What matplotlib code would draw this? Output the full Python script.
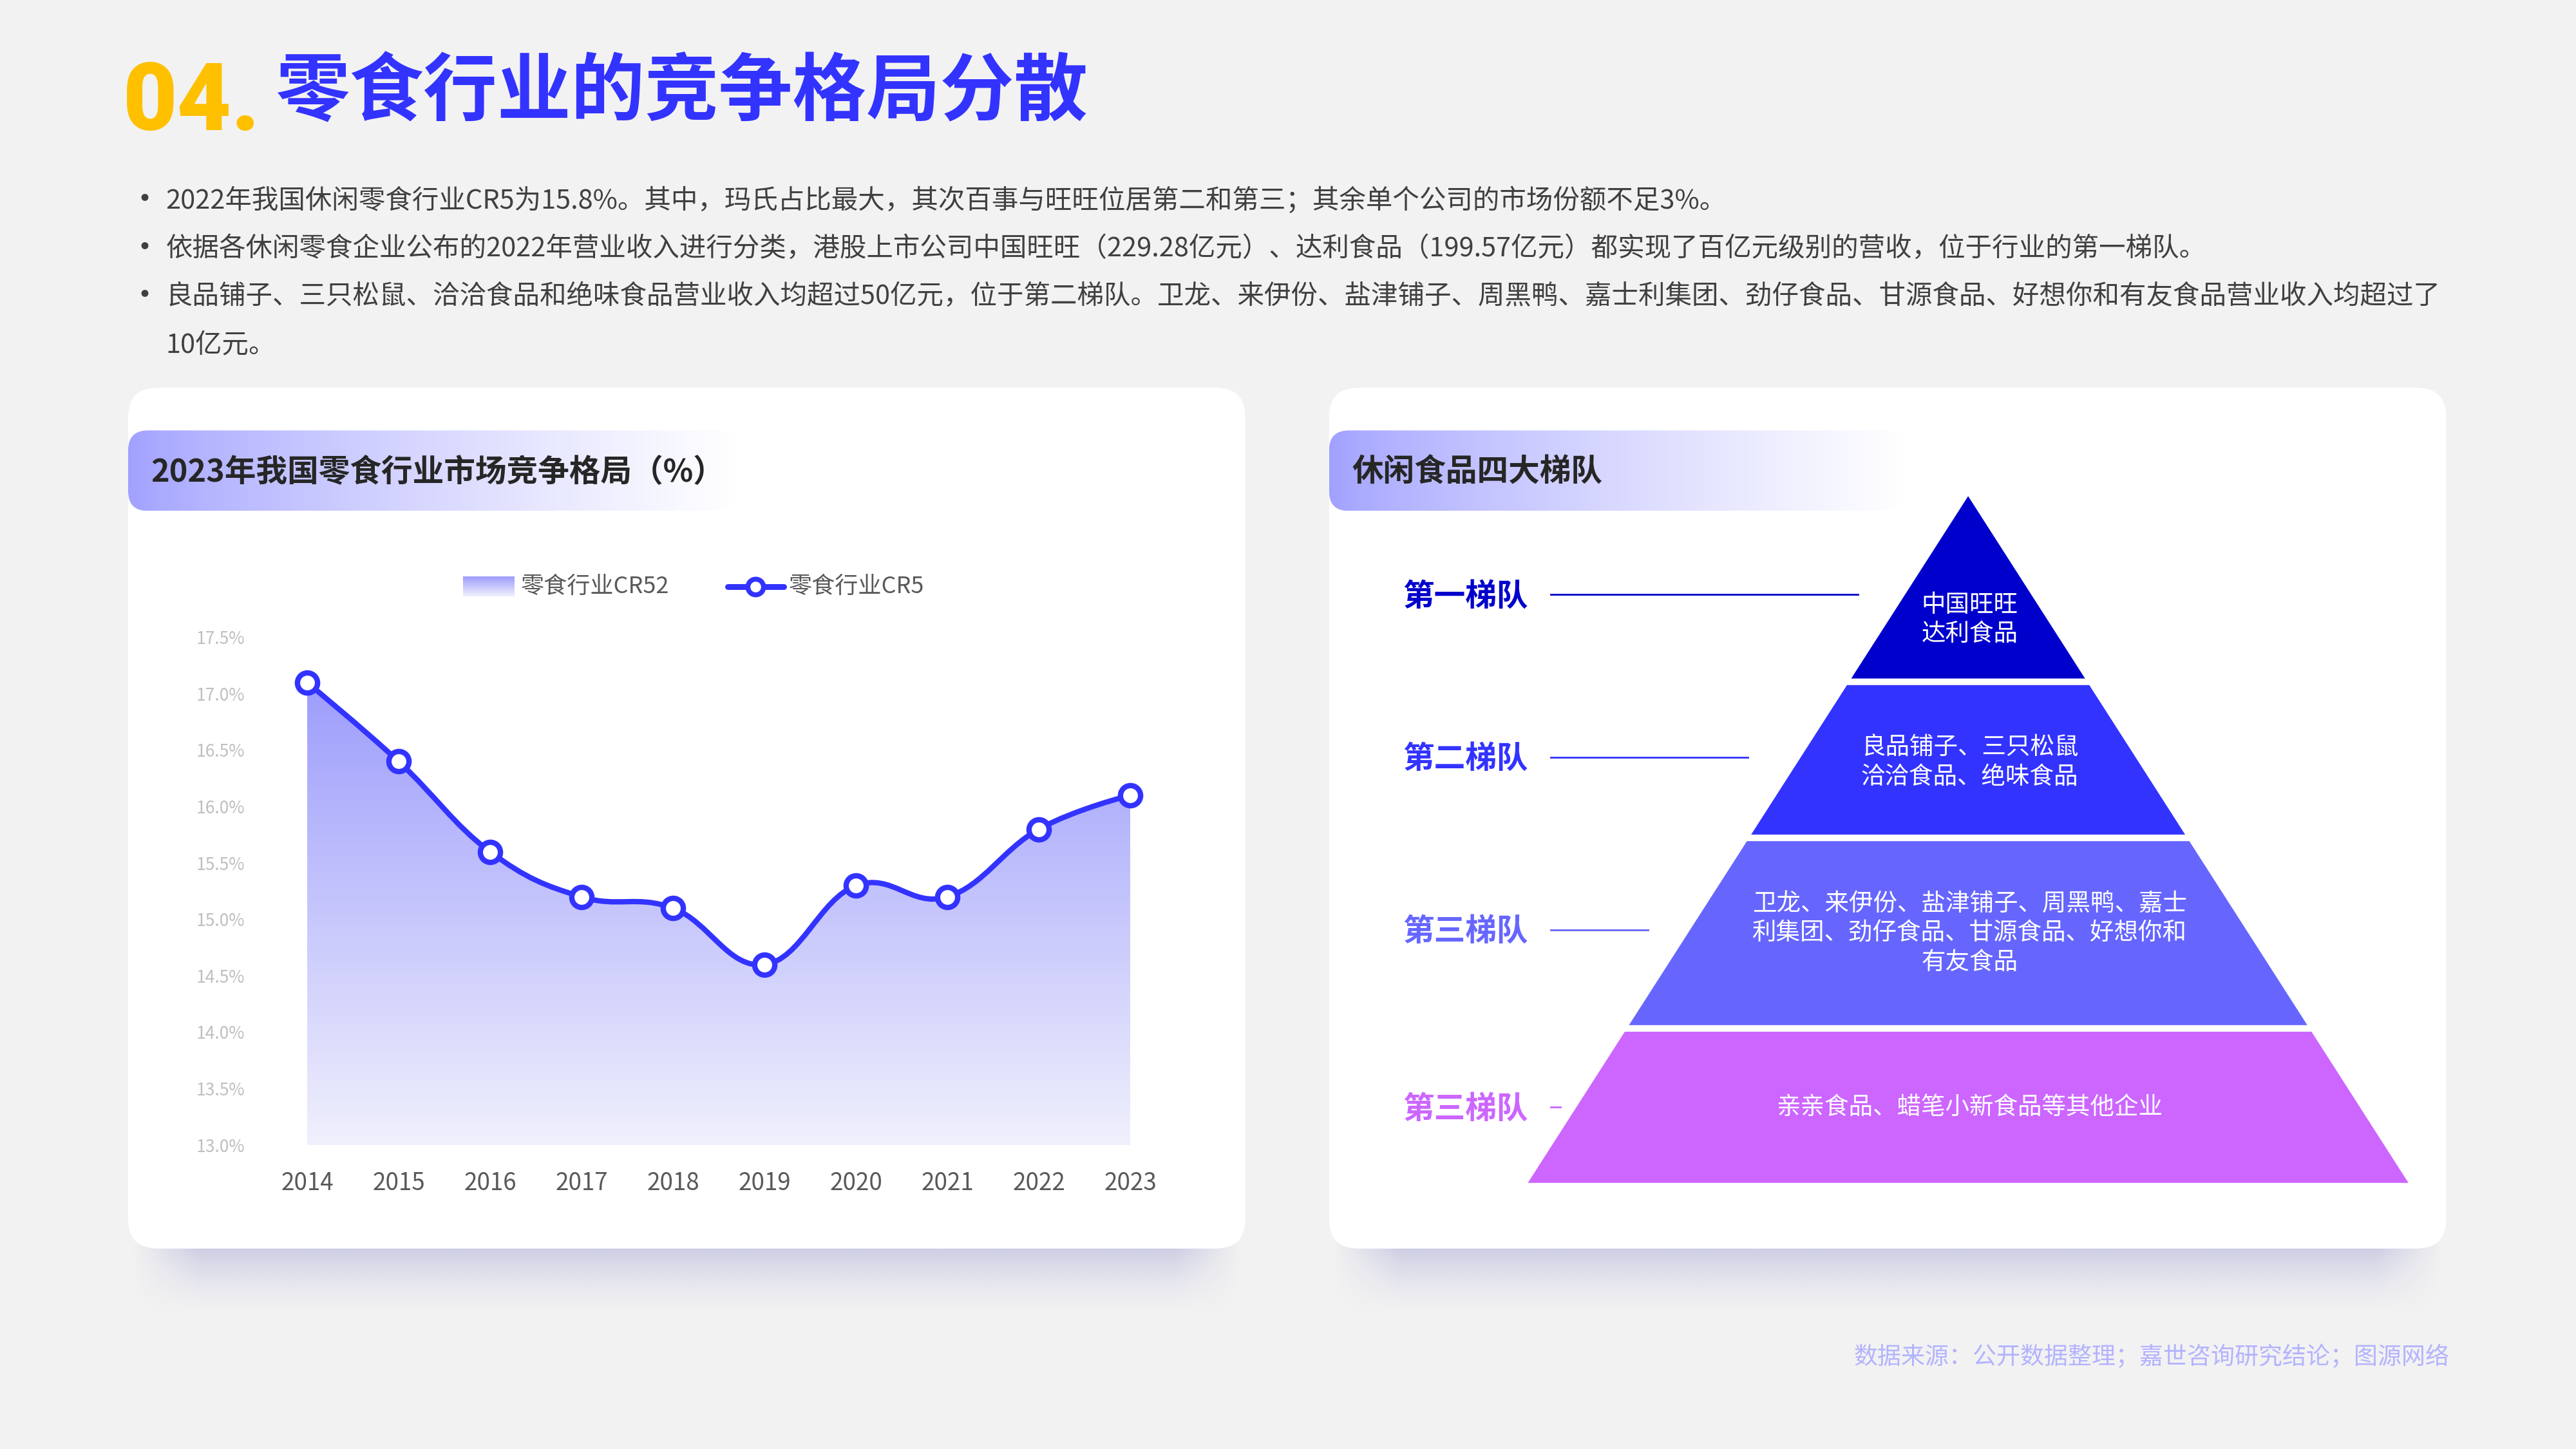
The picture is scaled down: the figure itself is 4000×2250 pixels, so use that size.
import numpy as np
import matplotlib
matplotlib.use('Agg')
import matplotlib.pyplot as plt
from matplotlib.patches import FancyBboxPatch, Polygon, PathPatch
from matplotlib.path import Path

plt.rcParams['font.family'] = ['Noto Sans CJK SC', 'DejaVu Sans']

# ---- data ----
years = [2014, 2015, 2016, 2017, 2018, 2019, 2020, 2021, 2022, 2023]
cr5 = [17.1, 16.4, 15.6, 15.2, 15.1, 14.6, 15.3, 15.2, 15.8, 16.1]
y_ticks = [13.0, 13.5, 14.0, 14.5, 15.0, 15.5, 16.0, 16.5, 17.0, 17.5]
legend_labels = ['零食行业CR52', '零食行业CR5']

title_num = '04.'
title_text = '零食行业的竞争格局分散'
bullets = [
    '2022年我国休闲零食行业CR5为15.8%。其中，玛氏占比最大，其次百事与旺旺位居第二和第三；其余单个公司的市场份额不足3%。',
    '依据各休闲零食企业公布的2022年营业收入进行分类，港股上市公司中国旺旺（229.28亿元）、达利食品（199.57亿元）都实现了百亿元级别的营收，位于行业的第一梯队。',
    '良品铺子、三只松鼠、洽洽食品和绝味食品营业收入均超过50亿元，位于第二梯队。卫龙、来伊份、盐津铺子、周黑鸭、嘉士利集团、劲仔食品、甘源食品、好想你和有友食品营业收入均超过了\n10亿元。',
]
left_header = '2023年我国零食行业市场竞争格局（%）'
right_header = '休闲食品四大梯队'
tier_names = ['第一梯队', '第二梯队', '第三梯队', '第三梯队']
tier_members = ['中国旺旺\n达利食品',
                '良品铺子、三只松鼠\n洽洽食品、绝味食品',
                '卫龙、来伊份、盐津铺子、周黑鸭、嘉士\n利集团、劲仔食品、甘源食品、好想你和\n有友食品',
                '亲亲食品、蜡笔小新食品等其他企业']
tier_colors = ['#0000cc', '#3333ff', '#6666ff', '#cc66ff']
source = '数据来源：公开数据整理；嘉世咨询研究结论；图源网络'

W, H = 1568, 882
fig = plt.figure(figsize=(16, 9), dpi=250, facecolor='#f2f2f2')
bg = fig.add_axes([0, 0, 1, 1])
bg.set_xlim(0, W)
bg.set_ylim(H, 0)
bg.axis('off')
bg.set_zorder(0)


def hex_rgb(h):
    h = h.lstrip('#')
    return np.array([int(h[i:i + 2], 16) for i in (0, 2, 4)]) / 255.0


# title
bg.text(75, 79, title_num, fontsize=42, fontweight='black', color='#ffc000',
        family=['Roboto', 'DejaVu Sans'], va='baseline', ha='left')
bg.text(168, 57, title_text, fontsize=33, fontweight='heavy', color='#3333ff',
        va='center', ha='left')

# bullets
line_y = 122
for txt in bullets:
    bg.text(78, line_y, '•', fontsize=15, color='#404040', va='center')
    for part in txt.split('\n'):
        bg.text(101, line_y, part, fontsize=11.95, color='#404040', va='center')
        line_y += 29.3


# cards with shadow
def card(x0, x1, y0, y1):
    sh_h = 42
    ys = np.linspace(0, 1, 60)[:, None]
    xs = np.linspace(0, 1, 300)[None, :]
    alpha = (1 - ys) ** 1.6 * np.clip(np.minimum(xs, 1 - xs) / 0.06, 0, 1)
    img = np.zeros((60, 300, 4))
    img[..., :3] = hex_rgb('#c2c2e0')
    img[..., 3] = alpha * 0.95
    bg.imshow(img, extent=[x0 + 2, x1 - 2, y1 + sh_h, y1 - 6], aspect='auto',
              zorder=1, interpolation='bilinear')
    bg.add_patch(FancyBboxPatch((x0, y0), x1 - x0, y1 - y0,
                                boxstyle='round,pad=0,rounding_size=18',
                                fc='white', ec='none', zorder=2))


def header(x0, y0, w, h, text):
    grad = np.linspace(0, 1, 300)[None, :] ** 0.75
    c0 = hex_rgb('#a0a0ff')
    img = np.ones((2, 300, 3)) * (c0 + (1 - c0) * grad[..., None])
    im = bg.imshow(img, extent=[x0, x0 + w, y0 + h, y0], aspect='auto', zorder=3)
    clip = FancyBboxPatch((x0, y0), w, h, boxstyle='round,pad=0,rounding_size=12',
                          fc='none', ec='none', transform=bg.transData)
    bg.add_patch(clip)
    im.set_clip_path(clip)
    bg.text(x0 + 14, y0 + h / 2 + 1, text, fontsize=14, fontweight='heavy', color='#262626',
            va='center', ha='left', zorder=4)


card(78, 758, 236, 760)
card(809, 1489, 236, 760)
header(78, 262, 370, 49, left_header)
header(809, 262, 350, 49, right_header)

# ---- line chart ----
ax = fig.add_axes([187 / W, 1 - 697 / H, (688 - 187) / W, (697 - 388) / H])
ax.set_zorder(5)
ax.patch.set_alpha(0)
for s in ax.spines.values():
    s.set_visible(False)
ax.set_yticks(y_ticks)
ax.set_yticklabels([f'{v:.1f}%' for v in y_ticks])
ax.set_xticks(years)
ax.set_xticklabels([str(y) for y in years])
ax.tick_params(axis='y', length=0, pad=28, labelsize=7.6, labelcolor='#bfbfbf')
ax.tick_params(axis='x', length=0, pad=11.5, labelsize=10.6, labelcolor='#595959')

# smooth bezier path through the points
pts = np.column_stack([years, cr5]).astype(float)
n = len(pts)
verts = [pts[0]]
codes = [Path.MOVETO]
k = 0.2
for i in range(n - 1):
    p0 = pts[i - 1] if i > 0 else pts[i]
    p1, p2 = pts[i], pts[i + 1]
    p3 = pts[i + 2] if i + 2 < n else pts[i + 1]
    c1 = p1 + k * (p2 - p0) if i > 0 else p1
    c2 = p2 - k * (p3 - p1) if i + 2 < n else p2
    verts += [c1, c2, p2]
    codes += [Path.CURVE4] * 3
line_path = Path(verts, codes)
area_path = Path(verts + [[years[-1], 13.0], [years[0], 13.0], pts[0]],
                 codes + [Path.LINETO, Path.LINETO, Path.CLOSEPOLY])

top_c, bot_c = hex_rgb('#9d9dfc'), hex_rgb('#f0f0fd')
g = np.linspace(0, 1, 256)[:, None]
grad_img = np.ones((256, 2, 3)) * (top_c + (bot_c - top_c) * g[..., None])
im = ax.imshow(grad_img, extent=[years[0], years[-1], 13.0, max(cr5)], aspect='auto',
               zorder=1, origin='upper')
area_patch = PathPatch(area_path, fc='none', ec='none', transform=ax.transData)
ax.add_patch(area_patch)
im.set_clip_path(area_patch)
ax.set_xlim(years[0], years[-1])
ax.set_ylim(13.0, 17.5)

ax.add_patch(PathPatch(line_path, fc='none', ec='#3333ff', lw=2.4, zorder=3,
                       capstyle='round', joinstyle='round'))
ax.plot(years, cr5, 'o', ms=9, mfc='white', mec='#3333ff', mew=2.4, zorder=4, clip_on=False)

# legend
lg = np.linspace(0, 1, 50)[:, None]
lg_img = np.ones((50, 2, 3)) * (top_c + (bot_c - top_c) * lg[..., None])
bg.imshow(lg_img, extent=[282, 313, 363, 351], aspect='auto', zorder=4)
bg.text(317, 357, legend_labels[0], fontsize=10.4, color='#595959', va='center', zorder=4)
bg.plot([443, 477], [357, 357], color='#3333ff', lw=2.6, zorder=4, solid_capstyle='round')
bg.plot([460], [357], 'o', ms=7, mfc='white', mec='#3333ff', mew=2.2, zorder=5)
bg.text(480, 357, legend_labels[1], fontsize=10.4, color='#595959', va='center', zorder=4)

# ---- pyramid ----
apex_x, apex_y, base_y, half_base = 1198, 302, 720, 268
bands = [(302, 413), (417, 508), (512, 624), (628, 720)]


def half_w(y):
    return half_base * (y - apex_y) / (base_y - apex_y)


text_y = [377, 464, 568, 674]
for (t, b), col, txt, ty in zip(bands, tier_colors, tier_members, text_y):
    poly = [(apex_x - half_w(t), t), (apex_x + half_w(t), t),
            (apex_x + half_w(b), b), (apex_x - half_w(b), b)]
    bg.add_patch(Polygon(poly, closed=True, fc=col, ec='none', zorder=4))
    bg.text(apex_x + 1, ty, txt, fontsize=10.8, color='white', ha='center', va='center',
            linespacing=1.2, zorder=5)

label_y = [362, 461, 566, 674]
line_end = [1131, 1064, 1003, 950]
for name, col, ly, le in zip(tier_names, tier_colors, label_y, line_end):
    bg.text(854, ly + 1, name, fontsize=14, fontweight='heavy', color=col, va='center',
            ha='left', zorder=5)
    bg.plot([944, le], [ly, ly], color=col, lw=0.8, zorder=5)

# source
bg.text(1491, 826, source, fontsize=10.65, color='#b3b3ff', ha='right', va='center')

fig.savefig('out.png', dpi=250, facecolor=fig.get_facecolor())
